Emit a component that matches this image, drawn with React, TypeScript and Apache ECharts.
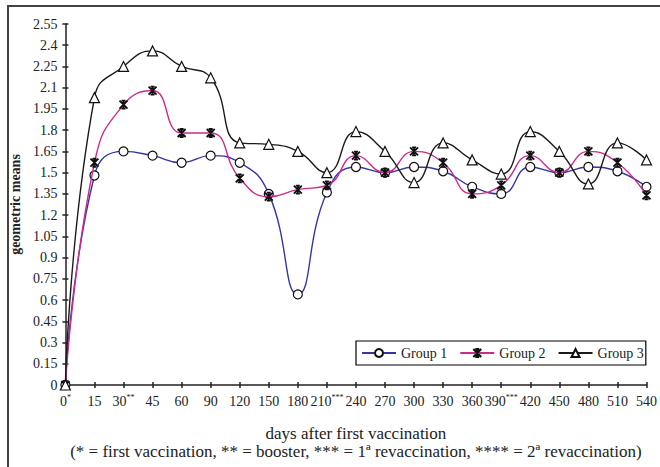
import React, { useEffect, useRef } from "react";
import * as echarts from "echarts";

const categories = ["0", "15", "30", "45", "60", "90", "120", "150", "180", "210", "240", "270", "300", "330", "360", "390", "420", "450", "480", "510", "540"];
const superscripts: Record<string, string> = { "0": "*", "30": "**", "210": "***", "390": "***" };
const group1 = [0, 1.48, 1.65, 1.62, 1.57, 1.62, 1.57, 1.35, 0.64, 1.36, 1.54, 1.50, 1.54, 1.51, 1.40, 1.35, 1.54, 1.50, 1.54, 1.51, 1.40];
const group2 = [0, 1.57, 1.98, 2.08, 1.78, 1.78, 1.46, 1.33, 1.38, 1.41, 1.62, 1.50, 1.65, 1.57, 1.35, 1.41, 1.62, 1.50, 1.65, 1.57, 1.34];
const group3 = [0, 2.03, 2.25, 2.36, 2.25, 2.17, 1.71, 1.70, 1.65, 1.50, 1.79, 1.65, 1.43, 1.71, 1.59, 1.49, 1.79, 1.65, 1.42, 1.71, 1.59];
const seriesNames = ["Group 1", "Group 2", "Group 3"];
const xTitle = "days after first vaccination";
const xNote = "(* = first vaccination, ** = booster, *** = 1ª revaccination, **** = 2ª revaccination)";
const yTitle = "geometric means";

const FONT = "'Liberation Serif', 'Times New Roman', serif";
const starPath = "path://M0,0L10,10M10,0L0,10M5,0L5,10M2.5,0L7.5,0M2.5,10L7.5,10";

export default function App() {
  const ref = useRef<HTMLDivElement>(null);
  useEffect(() => {
    if (!ref.current) return;
    const chart = echarts.init(ref.current, null, { renderer: "svg" });
    const yCommon = {
      type: "value" as const,
      min: 0,
      max: 2.55,
      interval: 0.15,
      splitLine: { show: false },
    };
    chart.setOption({
      animation: false,
      backgroundColor: "#fff",
      textStyle: { fontFamily: FONT },
      grid: { left: 62, right: 10, top: 24, bottom: 82, containLabel: false },
      legend: {
        data: seriesNames,
        left: 356,
        top: 341,
        orient: "horizontal",
        itemWidth: 34,
        itemHeight: 10,
        itemGap: 12,
        padding: [5, 2, 5, 5],
        borderColor: "#000",
        borderWidth: 1.2,
        textStyle: { fontFamily: FONT, fontSize: 14, color: "#222" },
      },
      xAxis: [
        {
          type: "category",
          data: categories,
          boundaryGap: false,
          axisLine: { lineStyle: { color: "#222", width: 1.5 } },
          axisTick: { show: true, inside: false, length: 3, lineStyle: { color: "#222", width: 1.5 } },
          axisLabel: {
            interval: 0,
            margin: 8,
            color: "#222",
            fontFamily: FONT,
            fontSize: 14,
            formatter: (v: string) => (superscripts[v] ? `{b|${v}}{s|${superscripts[v]}}` : `{b|${v}}`),
            rich: {
              b: { fontFamily: FONT, fontSize: 14, color: "#222", lineHeight: 16 },
              s: { fontFamily: FONT, fontSize: 8, color: "#222", verticalAlign: "top", lineHeight: 8 },
            },
          },
          name: xTitle + "\n" + xNote,
          nameLocation: "middle",
          nameGap: 39,
          nameTextStyle: { fontFamily: FONT, fontSize: 17, color: "#222", lineHeight: 18, align: "center" },
        },
        {
          type: "category",
          data: categories,
          boundaryGap: false,
          position: "bottom",
          axisLine: { show: false },
          axisTick: { show: true, inside: true, length: 3, lineStyle: { color: "#222", width: 1.5 } },
          axisLabel: { show: false },
        },
      ],
      yAxis: [
        {
          ...yCommon,
          axisLine: { show: true, lineStyle: { color: "#222", width: 1.5 } },
          axisTick: { show: true, inside: false, length: 3, lineStyle: { color: "#222", width: 1.5 } },
          axisLabel: {
            margin: 8,
            color: "#222",
            fontFamily: FONT,
            fontSize: 14,
            formatter: (v: number) => String(parseFloat(v.toFixed(2))),
          },
          name: yTitle,
          nameLocation: "middle",
          nameGap: 37,
          nameTextStyle: { fontFamily: FONT, fontSize: 14, fontWeight: "bold", color: "#222" },
        },
        {
          ...yCommon,
          position: "left",
          axisLine: { show: false },
          axisTick: { show: true, inside: true, length: 3, lineStyle: { color: "#222", width: 1.5 } },
          axisLabel: { show: false },
        },
      ],
      series: [
        {
          name: seriesNames[0],
          type: "line",
          data: group1,
          smooth: 0.5,
          symbol: "circle",
          symbolSize: 9,
          lineStyle: { color: "#3535a5", width: 1.4 },
          itemStyle: { color: "#fff", borderColor: "#111", borderWidth: 1.2 },
          z: 3,
        },
        {
          name: seriesNames[1],
          type: "line",
          data: group2,
          smooth: 0.5,
          symbol: starPath,
          symbolSize: 8,
          lineStyle: { color: "#cc2a8c", width: 1.4 },
          itemStyle: { color: "rgba(0,0,0,0)", borderColor: "#111", borderWidth: 1.8 },
          z: 4,
        },
        {
          name: seriesNames[2],
          type: "line",
          data: group3,
          smooth: 0.5,
          symbol: "triangle",
          symbolSize: 10,
          lineStyle: { color: "#1a1a1a", width: 1.4 },
          itemStyle: { color: "#fff", borderColor: "#111", borderWidth: 1.2 },
          z: 5,
        },
      ],
      graphic: [
        {
          type: "rect",
          shape: { x: 8, y: 6, width: 800, height: 600 },
          style: { fill: "none", stroke: "#444", lineWidth: 2 },
          silent: true,
        },
      ],
    });
    return () => chart.dispose();
  }, []);
  return <div ref={ref} style={{ position: "absolute", left: 0, top: 0, width: 660, height: 467 }} />;
}
